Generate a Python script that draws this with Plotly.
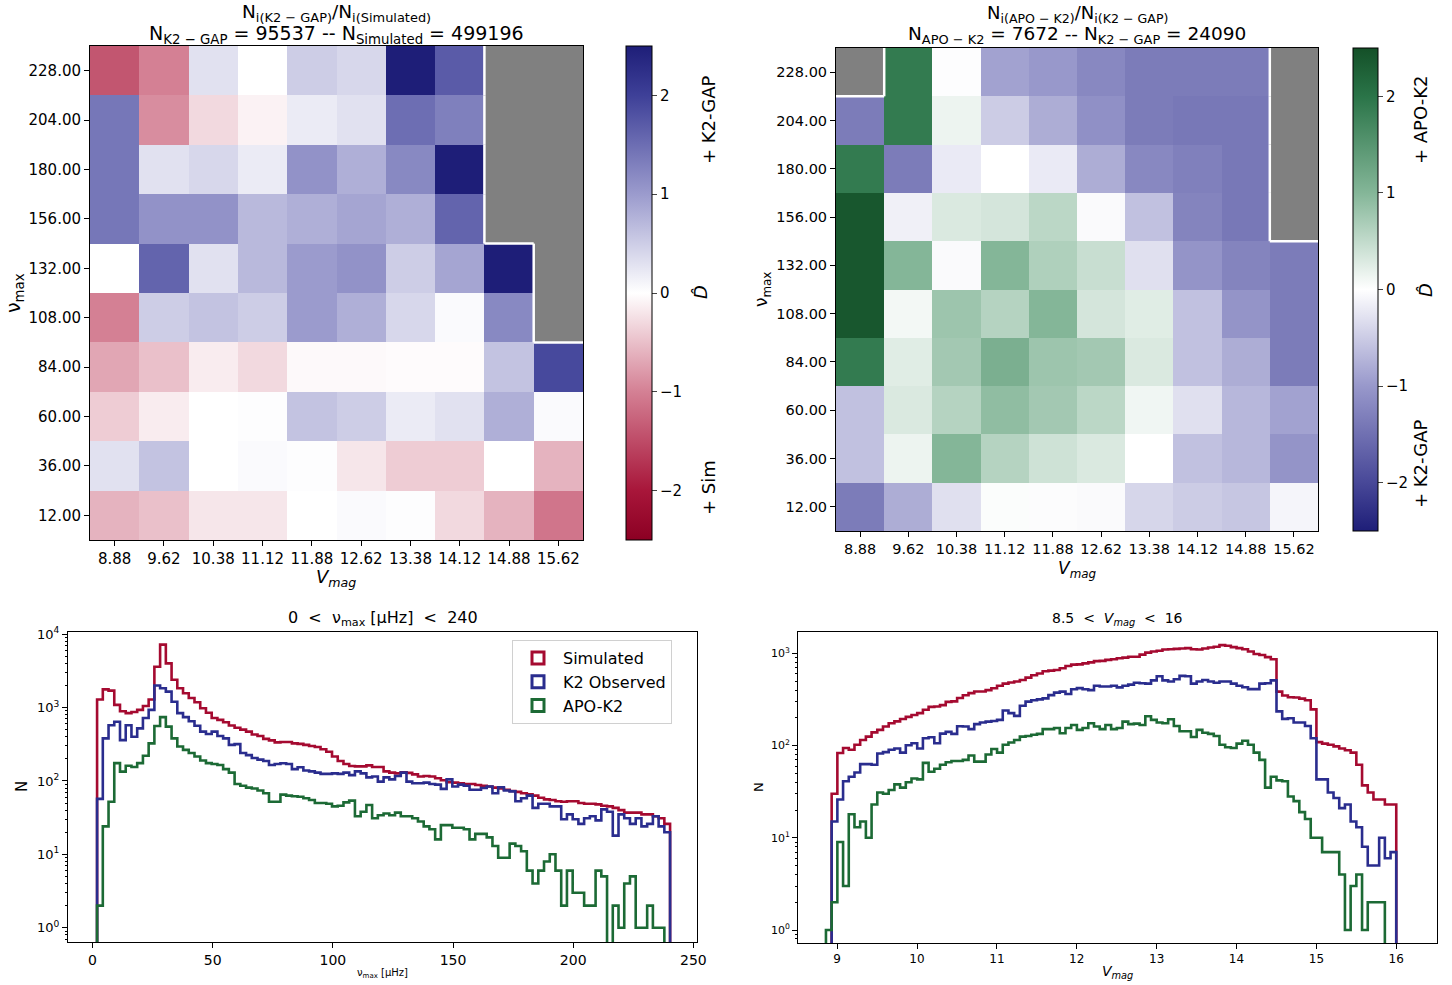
import numpy as np
import plotly.graph_objects as go

W, H = 1452, 985
def px(x): return x / W
def py(y): return 1 - y / H

# ---------------- heatmap data ----------------
vmag_centers = [8.875, 9.625, 10.375, 11.125, 11.875, 12.625, 13.375, 14.125, 14.875, 15.625]
vmag_labels = ["8.88", "9.62", "10.38", "11.12", "11.88", "12.62", "13.38", "14.12", "14.88", "15.62"]
numax_centers = [12, 36, 60, 84, 108, 132, 156, 180, 204, 228]
numax_labels = ["12.00", "36.00", "60.00", "84.00", "108.00", "132.00", "156.00", "180.00", "204.00", "228.00"]

N = None
# rows listed from top (228) to bottom (12)
D_k2_vs_sim_top_down = [
    [-1.4, -1.0, 0.3, 0.0, 0.5, 0.4, 2.5, 1.7, N, N],
    [1.4, -0.9, -0.3, -0.1, 0.2, 0.3, 1.5, 1.3, N, N],
    [1.4, 0.3, 0.4, 0.2, 1.1, 0.8, 1.2, 2.5, N, N],
    [1.4, 1.1, 1.1, 0.7, 0.8, 0.9, 0.8, 1.6, N, N],
    [0.0, 1.6, 0.3, 0.7, 1.0, 1.1, 0.5, 0.9, 2.5, N],
    [-1.0, 0.5, 0.6, 0.5, 1.0, 0.8, 0.4, 0.05, 1.2, N],
    [-0.7, -0.5, -0.15, -0.3, -0.05, -0.05, -0.03, -0.03, 0.6, 1.9],
    [-0.4, -0.15, 0.0, 0.02, 0.6, 0.5, 0.2, 0.3, 0.8, 0.05],
    [0.3, 0.6, 0.0, 0.05, 0.02, -0.2, -0.4, -0.4, 0.0, -0.6],
    [-0.6, -0.5, -0.2, -0.2, 0.0, 0.05, 0.02, -0.3, -0.6, -1.1],
]
D_apo_vs_k2_top_down = [
    [N, 1.9, -0.02, -0.9, -1.0, -1.2, -1.35, -1.35, -1.35, N],
    [-1.35, 1.9, 0.15, -0.5, -0.8, -1.1, -1.35, -1.4, -1.4, N],
    [1.9, -1.35, -0.2, 0.0, -0.2, -0.8, -1.2, -1.3, -1.4, N],
    [2.4, -0.15, 0.3, 0.35, 0.55, -0.05, -0.6, -1.25, -1.4, N],
    [2.4, 1.0, -0.05, 1.0, 0.65, 0.45, -0.3, -1.05, -1.25, -1.35],
    [2.4, 0.1, 0.8, 0.6, 1.0, 0.35, 0.25, -0.6, -1.05, -1.35],
    [1.9, 0.25, 0.75, 1.1, 0.8, 0.75, 0.3, -0.6, -0.8, -1.35],
    [-0.6, 0.3, 0.6, 0.9, 0.75, 0.55, 0.12, -0.3, -0.7, -0.9],
    [-0.6, 0.15, 1.0, 0.6, 0.4, 0.3, 0.0, -0.6, -0.7, -1.05],
    [-1.35, -0.8, -0.3, 0.03, -0.03, -0.05, -0.4, -0.5, -0.55, -0.1],
]
D_k2_vs_sim = D_k2_vs_sim_top_down[::-1]
D_apo_vs_k2 = D_apo_vs_k2_top_down[::-1]

# ---------------- histogram data ----------------
numax_edges_lo, numax_edges_hi = 1.9, 240.3
vmag_edges_lo, vmag_edges_hi = 8.86, 16.0

numax_sim = [1290, 1770, 1700, 1090, 890, 840, 870, 930, 1050, 1290,
             3600, 7200, 4000, 2400, 1830, 1570, 1350, 1180, 980, 850,
             720, 680, 630, 570, 530, 500, 470, 430, 410, 375,
             357, 335, 340, 340, 325, 320, 310, 300, 290, 270,
             250, 215, 187, 170, 160, 158, 158, 163, 155, 155,
             135, 130, 127, 131, 129, 123, 115, 117, 115, 109,
             102, 96, 95, 93, 91, 91, 88, 86, 84, 81,
             79, 76, 73, 71, 68, 66, 63, 59, 56, 55,
             53, 52, 53, 53, 50, 49, 49, 48, 46, 45,
             43, 40, 37, 37, 37, 35, 35, 33, 31, 26]
numax_k2 = [57, 380, 575, 640, 360, 575, 400, 520, 720, 930,
            2000, 1830, 1650, 1200, 840, 740, 650, 565, 470, 437,
            470, 410, 380, 310, 318, 240, 225, 205, 195, 187,
            165, 170, 174, 170, 145, 154, 139, 135, 130, 125,
            125, 127, 125, 130, 120, 135, 127, 112, 115, 98,
            112, 105, 117, 130, 98, 93, 93, 95, 91, 89,
            78, 105, 84, 89, 86, 76, 76, 80, 84, 68,
            82, 74, 72, 53, 58, 63, 43, 49, 49, 45,
            45, 30, 35, 30, 26, 31, 33, 29, 41, 38,
            18, 35, 31, 26, 31, 24, 26, 33, 24, 20]
numax_apo = [2, 24, 52, 175, 134, 161, 155, 175, 220, 325,
             560, 740, 550, 380, 295, 265, 240, 215, 190, 175,
             170, 165, 145, 130, 91, 86, 81, 79, 74, 68,
             52, 52, 65, 63, 62, 61, 58, 55, 50, 50,
             49, 45, 46, 51, 54, 33, 38, 47, 31, 34,
             36, 34, 37, 33, 33, 31, 28, 24, 22, 16,
             25, 25, 23, 23, 22, 16, 19, 19, 17, 13,
             9, 9, 14, 13, 11, 6, 4, 6, 8, 10,
             6, 2, 6, 3, 3, 2, 2, 6, 5, 0,
             2, 1, 4, 5, 1, 1, 2, 1, 1, 0]

vmag_sim = [0, 30, 83, 94, 90, 102, 115, 125, 139, 148,
            161, 175, 183, 194, 205, 215, 225, 245, 263, 265,
            275, 298, 302, 328, 352, 371, 386, 386, 400, 418,
            445, 470, 483, 495, 515, 546, 580, 605, 640, 650,
            660, 690, 730, 755, 760, 780, 800, 825, 830, 850,
            865, 885, 900, 920, 920, 970, 1020, 1050, 1070, 1100,
            1110, 1120, 1130, 1140, 1110, 1100, 1130, 1160, 1180, 1230,
            1210, 1170, 1140, 1110, 1050, 985, 960, 910, 865, 385,
            350, 335, 332, 323, 310, 247, 109, 105, 102, 98,
            93, 89, 84, 62, 37, 31, 26, 26, 23, 23]
vmag_k2 = [0, 15, 26, 41, 46, 51, 63, 63, 62, 82,
           85, 90, 93, 84, 101, 106, 93, 120, 123, 106,
           135, 141, 134, 162, 161, 151, 171, 178, 182, 185,
           190, 240, 225, 210, 270, 300, 310, 317, 325, 353,
           375, 385, 363, 408, 420, 408, 400, 445, 437, 437,
           445, 428, 445, 458, 480, 475, 470, 510, 565, 510,
           495, 525, 570, 565, 470, 495, 515, 495, 480, 495,
           495, 470, 445, 430, 410, 410, 470, 475, 510, 235,
           195, 198, 178, 178, 163, 120, 43, 43, 31, 27,
           21, 23, 15, 13, 8, 5, 5, 10, 6, 7]
vmag_apo = [1, 2, 9, 3, 18, 13, 15, 10, 23, 31,
            30, 33, 38, 35, 40, 44, 43, 65, 52, 56,
            62, 66, 68, 68, 70, 78, 67, 67, 80, 92,
            84, 102, 108, 115, 125, 127, 131, 134, 151, 151,
            155, 136, 155, 167, 148, 155, 175, 161, 151, 167,
            151, 155, 182, 171, 173, 167, 208, 190, 178, 175,
            193, 163, 143, 143, 124, 148, 138, 134, 127, 102,
            96, 94, 105, 113, 102, 84, 70, 35, 46, 42,
            41, 28, 25, 19, 16, 10, 10, 7, 7, 7,
            4, 1, 3, 4, 1, 2, 2, 2, 0, 0]

# ---------------- colors ----------------
c_sim = "#a50a30"
c_k2 = "#2a2d8e"
c_apo = "#1c6a35"

cs_top_left = [
    [0.0, "rgb(140,0,35)"], [0.1, "rgb(168,22,58)"], [0.3, "rgb(212,128,148)"],
    [0.5, "rgb(255,255,255)"], [0.7, "rgb(155,155,205)"], [0.9, "rgb(62,64,152)"],
    [1.0, "rgb(30,30,120)"]]
cs_top_right = [
    [0.0, "rgb(30,30,120)"], [0.1, "rgb(72,72,152)"], [0.3, "rgb(152,152,203)"],
    [0.5, "rgb(255,255,255)"], [0.7, "rgb(132,182,152)"], [0.9, "rgb(42,116,72)"],
    [1.0, "rgb(20,80,40)"]]

FONT = "DejaVu Sans"
fig = go.Figure()

def mask_of(z):
    return [[1 if v is None else None for v in row] for row in z]

def boundary_xy(z, xc, yc, dx, dy):
    xs, ys = [], []
    nr, nc = len(z), len(z[0])
    for r in range(nr):
        for c in range(nc):
            if z[r][c] is not None:
                continue
            x0, x1 = xc[c] - dx / 2, xc[c] + dx / 2
            y0, y1 = yc[r] - dy / 2, yc[r] + dy / 2
            if c - 1 >= 0 and z[r][c - 1] is not None:
                xs += [x0, x0, None]; ys += [y0, y1, None]
            if c + 1 < nc and z[r][c + 1] is not None:
                xs += [x1, x1, None]; ys += [y0, y1, None]
            if r - 1 >= 0 and z[r - 1][c] is not None:
                xs += [x0, x1, None]; ys += [y0, y0, None]
            if r + 1 < nr and z[r + 1][c] is not None:
                xs += [x0, x1, None]; ys += [y1, y1, None]
    return xs, ys

def add_heat(z, cs, xa, ya, cb_x, cb_top, cb_bot, thick):
    fig.add_trace(go.Heatmap(x=vmag_centers, y=numax_centers, z=mask_of(z),
                             colorscale=[[0, "#808080"], [1, "#808080"]], showscale=False,
                             xaxis=xa, yaxis=ya, hoverinfo="skip"))
    fig.add_trace(go.Heatmap(
        x=vmag_centers, y=numax_centers, z=z, colorscale=cs, zmin=-2.5, zmax=2.5,
        xaxis=xa, yaxis=ya,
        colorbar=dict(x=px(cb_x), xanchor="left", y=py((cb_top + cb_bot) / 2), yanchor="middle",
                      len=(cb_bot - cb_top) / H, lenmode="fraction", thickness=thick,
                      thicknessmode="pixels", xpad=0, ypad=0,
                      tickvals=[-2, -1, 0, 1, 2], ticks="outside", ticklen=5,
                      outlinewidth=1, outlinecolor="black",
                      tickfont=dict(family=FONT, size=15, color="black"))))
    bx, by = boundary_xy(z, vmag_centers, numax_centers, 0.75, 24)
    fig.add_trace(go.Scatter(x=bx, y=by, mode="lines", line=dict(color="white", width=2.5),
                             xaxis=xa, yaxis=ya, showlegend=False, hoverinfo="skip"))

add_heat(D_k2_vs_sim, cs_top_left, "x", "y", 626, 46, 540, 26)
add_heat(D_apo_vs_k2, cs_top_right, "x2", "y2", 1353, 48, 531, 25)

FLOOR = 1e-3
def step_trace(lo, hi, counts, color, xa, ya):
    edges = list(np.linspace(lo, hi, len(counts) + 1))
    xs = [edges[0]] + edges
    ys = [FLOOR] + [c if c > 0 else FLOOR for c in counts] + [FLOOR]
    return go.Scatter(x=xs, y=ys, mode="lines", line=dict(color=color, width=2.6, shape="hv"),
                      xaxis=xa, yaxis=ya, showlegend=False, hoverinfo="skip")

for cnt, col in [(numax_sim, c_sim), (numax_k2, c_k2), (numax_apo, c_apo)]:
    fig.add_trace(step_trace(numax_edges_lo, numax_edges_hi, cnt, col, "x3", "y3"))
for cnt, col in [(vmag_sim, c_sim), (vmag_k2, c_k2), (vmag_apo, c_apo)]:
    fig.add_trace(step_trace(vmag_edges_lo, vmag_edges_hi, cnt, col, "x4", "y4"))

# legend-only entries (outlined patches)
for name, col in [("Simulated", c_sim), ("K2 Observed", c_k2), ("APO-K2", c_apo)]:
    fig.add_trace(go.Bar(x=[None], y=[None], name=name, xaxis="x3", yaxis="y3",
                         marker=dict(color="rgba(255,255,255,0)", line=dict(color=col, width=3))))

ax_common = dict(showline=True, linecolor="black", linewidth=1, mirror=True, ticks="outside",
                 ticklen=5, tickcolor="black", showgrid=False, zeroline=False,
                 tickfont=dict(family=FONT, size=15, color="black"))

def tf(size):
    return {**ax_common, "tickfont": dict(family=FONT, size=size, color="black")}

def minor_log(k0, k1):
    return [m * 10 ** k for k in range(k0, k1) for m in range(2, 10)]

fig.update_layout(
    width=W, height=H, margin=dict(l=0, r=0, t=0, b=0, autoexpand=False),
    paper_bgcolor="white", plot_bgcolor="white", showlegend=True,
    font=dict(family=FONT, color="black"),
    xaxis=dict(domain=[px(90), px(583)], range=[8.5, 16], tickvals=vmag_centers,
               ticktext=vmag_labels, anchor="y", **tf(15)),
    yaxis=dict(domain=[py(540), py(46)], range=[0, 240], tickvals=numax_centers,
               ticktext=numax_labels, anchor="x", **tf(15)),
    xaxis2=dict(domain=[px(836), px(1318)], range=[8.5, 16], tickvals=vmag_centers,
                ticktext=vmag_labels, anchor="y2", **tf(14.5)),
    yaxis2=dict(domain=[py(531), py(48)], range=[0, 240], tickvals=numax_centers,
                ticktext=numax_labels, anchor="x2", **tf(14.5)),
    xaxis3=dict(domain=[px(68), px(697)], range=[-10.2, 251.5], tickvals=[0, 50, 100, 150, 200, 250],
                anchor="y3", **tf(14)),
    yaxis3=dict(domain=[py(942), py(632)], type="log", range=[-0.195, 4.03],
                tickvals=[1, 10, 100, 1000, 10000],
                ticktext=["10<sup>0</sup>", "10<sup>1</sup>", "10<sup>2</sup>", "10<sup>3</sup>", "10<sup>4</sup>"],
                minor=dict(tickvals=minor_log(-1, 4), ticks="outside", ticklen=2.5, tickcolor="black"),
                anchor="x3", **tf(13)),
    xaxis4=dict(domain=[px(798), px(1437)], range=[8.51, 16.51], tickvals=[9, 10, 11, 12, 13, 14, 15, 16],
                anchor="y4", **tf(12)),
    yaxis4=dict(domain=[py(943), py(632)], type="log", range=[-0.141, 3.232],
                tickvals=[1, 10, 100, 1000],
                ticktext=["10<sup>0</sup>", "10<sup>1</sup>", "10<sup>2</sup>", "10<sup>3</sup>"],
                minor=dict(tickvals=minor_log(-1, 4), ticks="outside", ticklen=2.5, tickcolor="black"),
                anchor="x4", **tf(11)),
    legend=dict(x=px(512), y=py(640), xanchor="left", yanchor="top",
                bgcolor="white", bordercolor="#d0d0d0", borderwidth=1,
                font=dict(family=FONT, size=16, color="black"), itemwidth=40,
                tracegroupgap=0),
)

def ann(text, x, y, size, angle=0, **kw):
    fig.add_annotation(text=text, x=px(x), y=py(y), xref="paper", yref="paper",
                       showarrow=False, textangle=angle, xanchor="center", yanchor="middle",
                       font=dict(family=FONT, size=size, color="black"), **kw)

# top-left texts
ann("N<sub>i(K2 − GAP)</sub>/N<sub>i(Simulated)</sub>", 336, 13, 18.5)
ann("N<sub>K2 − GAP</sub> = 95537 -- N<sub>Simulated</sub> = 499196", 336, 34, 19)
ann("<i>V<sub>mag</sub></i>", 336, 578, 18)
ann("ν<sub>max</sub>", 14, 293, 19, -90)
ann("<i>D̂</i>", 700, 292, 18, -90)
ann("+ K2-GAP", 708, 120, 18, -90)
ann("+ Sim", 708, 488, 18, -90)
# top-right texts
ann("N<sub>i(APO − K2)</sub>/N<sub>i(K2 − GAP)</sub>", 1077, 14, 18)
ann("N<sub>APO − K2</sub> = 7672 -- N<sub>K2 − GAP</sub> = 24090", 1077, 35, 18.5)
ann("<i>V<sub>mag</sub></i>", 1077, 569, 17)
ann("ν<sub>max</sub>", 762, 290, 17, -90)
ann("<i>D̂</i>", 1425, 290, 18, -90)
ann("+ APO-K2", 1420, 120, 18, -90)
ann("+ K2-GAP", 1420, 464, 18, -90)
# bottom-left texts
ann("0  <  ν<sub>max</sub> [μHz]  <  240", 383, 618, 16)
ann("ν<sub>max</sub> [μHz]", 383, 973, 10)
ann("N", 22, 787, 15, -90)
# bottom-right texts
ann("8.5  <  <i>V<sub>mag</sub></i>  <  16", 1117, 619, 14)
ann("<i>V<sub>mag</sub></i>", 1117, 972, 14)
ann("N", 758, 787, 13, -90)

fig.write_html("out.html")
